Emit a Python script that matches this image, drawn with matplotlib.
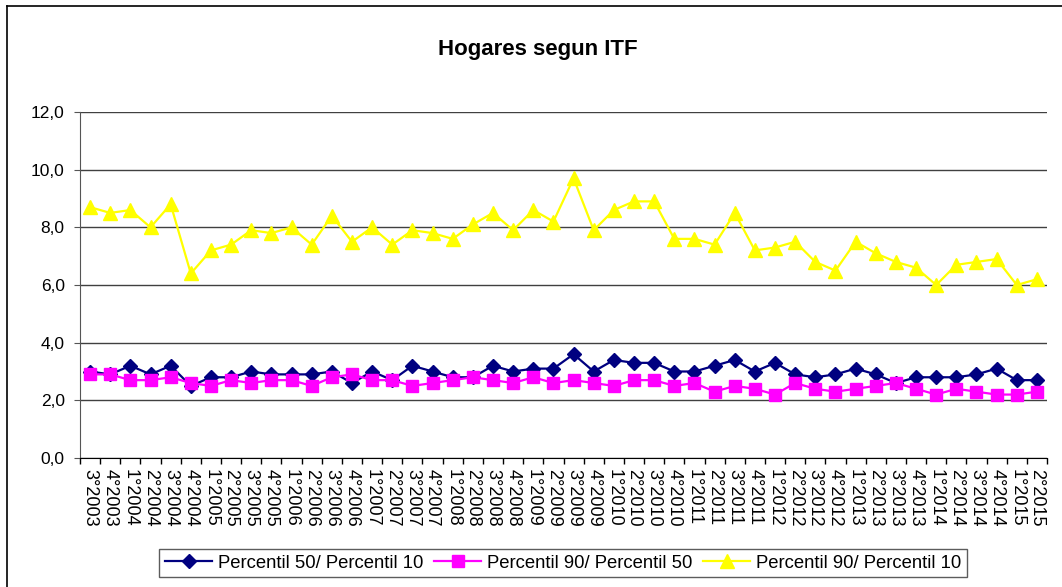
import matplotlib
matplotlib.use("Agg")
import matplotlib.pyplot as plt
from matplotlib.lines import Line2D
from matplotlib.ticker import FuncFormatter, FixedLocator

plt.rcParams['font.family'] = ['Liberation Sans', 'DejaVu Sans']

quarters = ["3°2003", "4°2003"]
for yr in range(2004, 2015):
    quarters += [f"{q}°{yr}" for q in (1, 2, 3, 4)]
quarters += ["1°2015", "2°2015"]

p50_p10 = [3.0, 2.9, 3.2, 2.9, 3.2, 2.5, 2.8, 2.8, 3.0, 2.9, 2.9, 2.9, 3.0, 2.6, 3.0, 2.7,
           3.2, 3.0, 2.8, 2.8, 3.2, 3.0, 3.1, 3.1, 3.6, 3.0, 3.4, 3.3, 3.3, 3.0, 3.0, 3.2,
           3.4, 3.0, 3.3, 2.9, 2.8, 2.9, 3.1, 2.9, 2.6, 2.8, 2.8, 2.8, 2.9, 3.1, 2.7, 2.7]
p90_p50 = [2.9, 2.9, 2.7, 2.7, 2.8, 2.6, 2.5, 2.7, 2.6, 2.7, 2.7, 2.5, 2.8, 2.9, 2.7, 2.7,
           2.5, 2.6, 2.7, 2.8, 2.7, 2.6, 2.8, 2.6, 2.7, 2.6, 2.5, 2.7, 2.7, 2.5, 2.6, 2.3,
           2.5, 2.4, 2.2, 2.6, 2.4, 2.3, 2.4, 2.5, 2.6, 2.4, 2.2, 2.4, 2.3, 2.2, 2.2, 2.3]
p90_p10 = [8.7, 8.5, 8.6, 8.0, 8.8, 6.4, 7.2, 7.4, 7.9, 7.8, 8.0, 7.4, 8.4, 7.5, 8.0, 7.4,
           7.9, 7.8, 7.6, 8.1, 8.5, 7.9, 8.6, 8.2, 9.7, 7.9, 8.6, 8.9, 8.9, 7.6, 7.6, 7.4,
           8.5, 7.2, 7.3, 7.5, 6.8, 6.5, 7.5, 7.1, 6.8, 6.6, 6.0, 6.7, 6.8, 6.9, 6.0, 6.2]

series_names = ["Percentil 50/ Percentil 10", "Percentil 90/ Percentil 50", "Percentil 90/ Percentil 10"]
colors = ["#000080", "#FF00FF", "#FFFF00"]
markers = ["D", "s", "^"]
msizes = [7.5, 8.5, 10.5]

W, H = 1062, 587
fig = plt.figure(figsize=(W / 100, H / 100), dpi=100)
ax = fig.add_axes([80 / W, 1 - 458 / H, (1047 - 80) / W, (458 - 112) / H])

n = len(quarters)
xs = [i + 0.5 for i in range(n)]
for vals, name, c, m, ms in zip([p50_p10, p90_p50, p90_p10], series_names, colors, markers, msizes):
    ax.plot(xs, vals, color=c, marker=m, markersize=ms, linewidth=1.6,
            markeredgecolor=c, label=name, zorder=3)

ax.set_xlim(0, n)
ax.set_ylim(0, 12)
ax.set_yticks([0, 2, 4, 6, 8, 10, 12])
ax.yaxis.set_major_formatter(FuncFormatter(lambda v, p: f"{v:.1f}".replace('.', ',')))
ax.yaxis.grid(True, color='#404040', linewidth=1.0)
ax.set_axisbelow(True)

ax.xaxis.set_major_locator(FixedLocator(list(range(n + 1))))
ax.xaxis.set_minor_locator(FixedLocator(xs))
ax.set_xticklabels([], minor=False)
ax.set_xticklabels(quarters, minor=True, rotation=-90, fontsize=13)
ax.tick_params(axis='x', which='major', direction='out', length=4, color='black', width=1)
ax.tick_params(axis='x', which='minor', length=0, pad=8)
ax.tick_params(axis='y', direction='out', length=4, color='#555555', labelsize=12.5, pad=7)

for s in ['top', 'right']:
    ax.spines[s].set_visible(False)
ax.spines['left'].set_color('#555555')
ax.spines['bottom'].set_color('black')

fig.text(538 / W, 1 - 49 / H, "Hogares segun ITF", ha='center', va='center',
         fontsize=16, fontweight='bold')

leg = fig.legend(loc='center', bbox_to_anchor=(563 / W, 1 - 563 / H), ncol=3,
                 fontsize=13.3, frameon=True, fancybox=False, handlelength=2.55,
                 columnspacing=0.6, handletextpad=0.3, borderpad=0.3)
leg.get_frame().set_edgecolor('#333333')
leg.get_frame().set_linewidth(1.0)

# outer chart border (left & top visible, cropped at right/bottom)
fig.add_artist(Line2D([7 / W, 7 / W], [0, 1 - 6 / H], color='black', linewidth=1.2, transform=fig.transFigure))
fig.add_artist(Line2D([7 / W, 1], [1 - 6 / H, 1 - 6 / H], color='black', linewidth=1.2, transform=fig.transFigure))

fig.savefig("out.png", dpi=100)
